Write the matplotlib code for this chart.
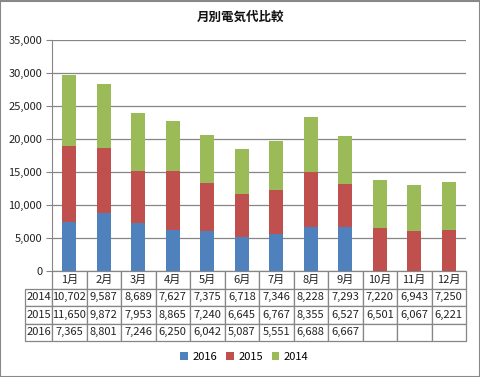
import numpy as np
import matplotlib.pyplot as plt
from matplotlib.patches import Rectangle

plt.rcParams['font.family'] = ['Noto Sans CJK JP', 'DejaVu Sans']

months = ['1月', '2月', '3月', '4月', '5月', '6月', '7月', '8月', '9月', '10月', '11月', '12月']
years = ['2014', '2015', '2016']
v2014 = [10702, 9587, 8689, 7627, 7375, 6718, 7346, 8228, 7293, 7220, 6943, 7250]
v2015 = [11650, 9872, 7953, 8865, 7240, 6645, 6767, 8355, 6527, 6501, 6067, 6221]
v2016 = [7365, 8801, 7246, 6250, 6042, 5087, 5551, 6688, 6667, np.nan, np.nan, np.nan]

colors = {'2016': '#4F81BD', '2015': '#C0504D', '2014': '#9BBB59'}
grid_c = '#868686'

W, H = 481, 377
fig = plt.figure(figsize=(W / 100, H / 100), dpi=100)
ax = fig.add_axes([52 / W, 1 - 271 / H, (466 - 52) / W, (271 - 40) / H])

x = np.arange(len(months))
a16 = np.array(v2016, dtype=float)
a15 = np.array(v2015, dtype=float)
a14 = np.array(v2014, dtype=float)
b16 = np.nan_to_num(a16)

ax.bar(x, a16, width=0.4, color=colors['2016'], label='2016', zorder=3)
ax.bar(x, a15, width=0.4, bottom=b16, color=colors['2015'], label='2015', zorder=3)
ax.bar(x, a14, width=0.4, bottom=b16 + a15, color=colors['2014'], label='2014', zorder=3)

ax.set_xlim(-0.5, len(months) - 0.5)
ax.set_ylim(0, 35000)
ax.set_yticks(np.arange(0, 35001, 5000))
ax.set_yticklabels([f'{v:,}' for v in range(0, 35001, 5000)], fontsize=8, color='#222222')
ax.set_xticks([])
ax.grid(axis='y', color=grid_c, linewidth=0.9, zorder=0)
for s in ['top', 'right', 'bottom']:
    ax.spines[s].set_visible(False)
ax.spines['left'].set_color(grid_c)
ax.tick_params(axis='y', length=4, color=grid_c, pad=3)

# data table under the chart
cell_text = []
for yr, vals in zip(years, [v2014, v2015, v2016]):
    row = [yr] + ['' if np.isnan(v) else f'{int(v):,}' for v in vals]
    cell_text.append(row)
col_w = [27] + [34.5] * 12
tot = sum(col_w)
tbl = ax.table(cellText=cell_text, colLabels=[''] + months,
               colWidths=[w / tot for w in col_w], cellLoc='center',
               bbox=[(25 - 52) / 414, -70 / 231, 441 / 414, 70 / 231])
tbl.auto_set_font_size(False)
tbl.set_fontsize(8)
for (r, c), cell in tbl.get_celld().items():
    cell.set_edgecolor(grid_c)
    cell.set_linewidth(0.9)
    cell.get_text().set_color('#222222')
tbl[0, 0].visible_edges = ''

fig.text(0.5, 1 - 17 / H, '月別電気代比較', ha='center', va='center',
         fontsize=9, fontweight='bold', color='#111111')

handles, labels = ax.get_legend_handles_labels()
fig.legend(handles, labels, loc='center', bbox_to_anchor=(0.508, 1 - 357 / H),
           ncol=3, frameon=False, fontsize=8, handlelength=0.7, handleheight=0.7,
           handletextpad=0.4, columnspacing=0.8)

fig.patches.append(Rectangle((0.001, 0.001), 0.997, 0.996, transform=fig.transFigure,
                             fill=False, edgecolor='#888888', linewidth=1.5))

fig.savefig('out.png', dpi=100)
